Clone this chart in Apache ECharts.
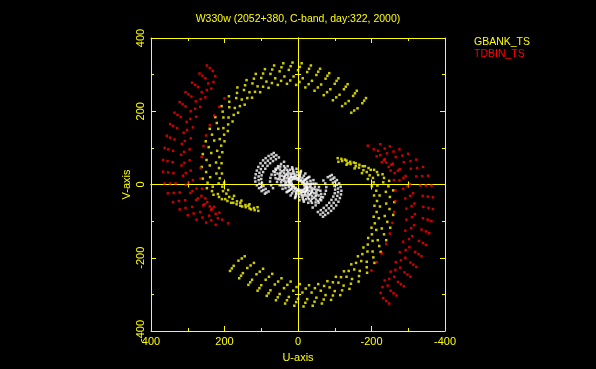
<!DOCTYPE html>
<html>
<head>
<meta charset="utf-8">
<script src="https://cdn.jsdelivr.net/npm/echarts/dist/echarts.min.js"></script>
<style>
html,body{margin:0;padding:0;background:#000;}
#chart{width:596px;height:369px;}
</style>
</head>
<body>
<div id="chart"></div>
<script>
// ---- Axis settings (data units) ----
const axisMin = -400;
const axisMax = 400;
const tickStep = 200;
const titleText = 'W330w (2052+380, C-band, day:322, 2000)';
const seriesNames = ['GBANK_TS', 'TDBIN_TS', 'other'];

// ---- GBANK_TS (yellow) tracks, [u, v] ----
const gbankY1 = [[-185,236],[-160,256],[-135,274],[-110,290],[-85,304],[-60,316],[-35,325],[-10,331],[15,333],[40,331],[65,325],[90,315],[115,302],[140,285],[165,265],[188,241],[208,214],[225,184],[240,152],[251,118],[259,83],[262,48],[259,16],[248,-10],[230,-28],[207,-40],[182,-50],[157,-58],[132,-65],[108,-72]];
const gbankY5 = [[-180,229],[-155,249],[-130,267],[-105,283],[-80,297],[-55,308],[-30,316],[-5,321],[20,323],[45,320],[70,314],[95,303],[120,289],[144,271],[166,250],[187,226],[205,199],[221,168],[234,136],[243,102],[249,67],[250,34],[246,5],[234,-18],[215,-34],[192,-45],[167,-54],[142,-62],[118,-70]];
const gbankY2 = [[-175,222],[-150,242],[-125,260],[-100,275],[-75,289],[-50,299],[-25,307],[0,312],[25,313],[50,309],[75,302],[100,291],[124,276],[147,258],[168,236],[187,211],[203,183],[217,152],[228,120],[236,86],[240,52],[239,20],[232,-6],[218,-26],[198,-40],[176,-50],[152,-60],[128,-68]];
const gbankY3 = [[-162,208],[-138,228],[-113,245],[-88,260],[-63,273],[-38,283],[-13,290],[12,295],[37,295],[62,290],[86,281],[110,268],[132,252],[153,232],[172,209],[189,183],[203,154],[213,124],[220,92],[223,60],[222,30],[216,3],[204,-18],[187,-34],[166,-46],[143,-56],[120,-64]];
const gbankY6 = [[-153,202],[-129,221],[-104,238],[-79,252],[-54,265],[-29,274],[-4,280],[21,284],[46,283],[71,277],[95,267],[117,253],[138,236],[158,214],[175,190],[190,164],[201,136],[209,106],[214,75],[215,45],[213,17],[206,-6],[195,-25],[178,-39],[157,-50],[135,-58]];
const gbankY4 = [[-145,196],[-120,214],[-95,230],[-70,244],[-45,256],[-20,265],[5,272],[30,275],[55,272],[80,264],[103,252],[125,237],[145,218],[163,196],[178,172],[191,146],[200,118],[206,88],[208,58],[207,30],[201,5],[190,-15],[174,-31],[154,-44],[132,-54],[110,-62]];
const gbankY1c = [[185,-236],[160,-256],[135,-274],[110,-290],[85,-304],[60,-316],[35,-325],[10,-331],[-15,-333],[-40,-331],[-65,-325],[-90,-315],[-115,-302],[-140,-285],[-165,-265],[-188,-241],[-208,-214],[-225,-184],[-240,-152],[-251,-118],[-259,-83],[-262,-48],[-259,-16],[-248,10],[-230,28],[-207,40],[-182,50],[-157,58],[-132,65],[-108,72]];
const gbankY5c = [[180,-229],[155,-249],[130,-267],[105,-283],[80,-297],[55,-308],[30,-316],[5,-321],[-20,-323],[-45,-320],[-70,-314],[-95,-303],[-120,-289],[-144,-271],[-166,-250],[-187,-226],[-205,-199],[-221,-168],[-234,-136],[-243,-102],[-249,-67],[-250,-34],[-246,-5],[-234,18],[-215,34],[-192,45],[-167,54],[-142,62],[-118,70]];
const gbankY2c = [[175,-222],[150,-242],[125,-260],[100,-275],[75,-289],[50,-299],[25,-307],[0,-312],[-25,-313],[-50,-309],[-75,-302],[-100,-291],[-124,-276],[-147,-258],[-168,-236],[-187,-211],[-203,-183],[-217,-152],[-228,-120],[-236,-86],[-240,-52],[-239,-20],[-232,6],[-218,26],[-198,40],[-176,50],[-152,60],[-128,68]];
const gbankY3c = [[162,-208],[138,-228],[113,-245],[88,-260],[63,-273],[38,-283],[13,-290],[-12,-295],[-37,-295],[-62,-290],[-86,-281],[-110,-268],[-132,-252],[-153,-232],[-172,-209],[-189,-183],[-203,-154],[-213,-124],[-220,-92],[-223,-60],[-222,-30],[-216,-3],[-204,18],[-187,34],[-166,46],[-143,56],[-120,64]];
const gbankY6c = [[153,-202],[129,-221],[104,-238],[79,-252],[54,-265],[29,-274],[4,-280],[-21,-284],[-46,-283],[-71,-277],[-95,-267],[-117,-253],[-138,-236],[-158,-214],[-175,-190],[-190,-164],[-201,-136],[-209,-106],[-214,-75],[-215,-45],[-213,-17],[-206,6],[-195,25],[-178,39],[-157,50],[-135,58]];
const gbankY4c = [[145,-196],[120,-214],[95,-230],[70,-244],[45,-256],[20,-265],[-5,-272],[-30,-275],[-55,-272],[-80,-264],[-103,-252],[-125,-237],[-145,-218],[-163,-196],[-178,-172],[-191,-146],[-200,-118],[-206,-88],[-208,-58],[-207,-30],[-201,-5],[-190,15],[-174,31],[-154,44],[-132,54],[-110,62]];

// ---- TDBIN_TS (red) tracks, [u, v] ----
const tdbinR1 = [[248,325],[268,303],[288,278],[306,252],[322,225],[336,196],[348,165],[357,133],[363,100],[367,67],[367,35],[363,3],[354,-24],[340,-48],[322,-68],[300,-84],[276,-96],[250,-104],[224,-110]];
const tdbinR6 = [[240,318],[260,297],[280,272],[298,246],[314,219],[328,190],[340,160],[348,128],[353,96],[355,64],[353,33],[348,3],[338,-23],[324,-45],[306,-64],[284,-79],[260,-90],[236,-98]];
const tdbinR2 = [[232,310],[252,290],[272,266],[290,240],[306,213],[319,184],[329,154],[336,123],[340,92],[341,61],[339,31],[333,3],[322,-22],[307,-43],[288,-61],[266,-75],[242,-85],[218,-92]];
const tdbinR3 = [[225,296],[244,276],[262,252],[278,227],[292,200],[303,171],[311,141],[316,111],[318,81],[317,52],[313,24],[305,-1],[293,-23],[277,-42],[258,-57],[236,-69],[214,-77]];
const tdbinR7 = [[230,280],[248,258],[265,233],[280,207],[293,179],[302,149],[308,119],[310,89],[309,59],[305,31],[298,5],[287,-18],[272,-38],[254,-54],[234,-66]];
const tdbinR4 = [[236,262],[252,238],[266,212],[277,185],[286,156],[292,126],[295,96],[295,66],[292,38],[286,12],[276,-11],[263,-31],[247,-48],[228,-61]];
const tdbinR5 = [[200,235],[214,212],[228,188],[240,162],[250,134],[257,105],[262,75],[265,45],[265,16],[261,-12],[252,-38],[240,-60],[224,-80],[206,-96],[190,-106]];
const tdbinR1c = [[-248,-325],[-268,-303],[-288,-278],[-306,-252],[-322,-225],[-336,-196],[-348,-165],[-357,-133],[-363,-100],[-367,-67],[-367,-35],[-363,-3],[-354,24],[-340,48],[-322,68],[-300,84],[-276,96],[-250,104],[-224,110]];
const tdbinR6c = [[-240,-318],[-260,-297],[-280,-272],[-298,-246],[-314,-219],[-328,-190],[-340,-160],[-348,-128],[-353,-96],[-355,-64],[-353,-33],[-348,-3],[-338,23],[-324,45],[-306,64],[-284,79],[-260,90],[-236,98]];
const tdbinR2c = [[-232,-310],[-252,-290],[-272,-266],[-290,-240],[-306,-213],[-319,-184],[-329,-154],[-336,-123],[-340,-92],[-341,-61],[-339,-31],[-333,-3],[-322,22],[-307,43],[-288,61],[-266,75],[-242,85],[-218,92]];
const tdbinR3c = [[-225,-296],[-244,-276],[-262,-252],[-278,-227],[-292,-200],[-303,-171],[-311,-141],[-316,-111],[-318,-81],[-317,-52],[-313,-24],[-305,1],[-293,23],[-277,42],[-258,57],[-236,69],[-214,77]];
const tdbinR7c = [[-230,-280],[-248,-258],[-265,-233],[-280,-207],[-293,-179],[-302,-149],[-308,-119],[-310,-89],[-309,-59],[-305,-31],[-298,-5],[-287,18],[-272,38],[-254,54],[-234,66]];
const tdbinR4c = [[-236,-262],[-252,-238],[-266,-212],[-277,-185],[-286,-156],[-292,-126],[-295,-96],[-295,-66],[-292,-38],[-286,-12],[-276,11],[-263,31],[-247,48],[-228,61]];
const tdbinR5c = [[-200,-235],[-214,-212],[-228,-188],[-240,-162],[-250,-134],[-257,-105],[-262,-75],[-265,-45],[-265,-16],[-261,12],[-252,38],[-240,60],[-224,80],[-206,96],[-190,106]];

// ---- other short baselines (white), [u, v] ----
const ringA = [[60,40],[48,49],[28,50],[4,43],[-20,30],[-42,12],[-57,-7],[-63,-26],[-60,-40],[-48,-49],[-28,-50],[-4,-43],[20,-30],[42,-12],[57,7],[63,26]];
const ringS1 = [[55,45],[38,50],[16,47],[-8,37],[-31,21],[-50,2],[-61,-17],[-63,-34],[-55,-45],[-38,-50],[-16,-47],[8,-37],[31,-21],[50,-2],[61,17],[63,34]];
const ringB = [[49,41],[35,45],[15,43],[-7,34],[-28,19],[-45,2],[-55,-15],[-56,-30],[-49,-41],[-35,-45],[-15,-43],[7,-34],[28,-19],[45,-2],[55,15],[56,30]];
const ringC = [[48,32],[38,39],[22,40],[3,34],[-16,24],[-34,10],[-46,-6],[-50,-21],[-48,-32],[-38,-39],[-22,-40],[-3,-34],[16,-24],[34,-10],[46,6],[50,21]];
const ringS2 = [[44,36],[30,40],[13,38],[-6,30],[-25,17],[-40,2],[-49,-14],[-50,-27],[-44,-36],[-30,-40],[-13,-38],[6,-30],[25,-17],[40,-2],[49,14],[50,27]];
const ringD = [[38,32],[27,35],[12,33],[-5,26],[-22,15],[-35,2],[-43,-12],[-44,-24],[-38,-32],[-27,-35],[-12,-33],[5,-26],[22,-15],[35,-2],[43,12],[44,24]];
const ringE = [[36,24],[29,29],[17,30],[2,26],[-12,18],[-25,7],[-34,-4],[-38,-16],[-36,-24],[-29,-29],[-17,-30],[-2,-26],[12,-18],[25,-7],[34,4],[38,16]];
const ringS3 = [[33,27],[23,30],[10,28],[-5,22],[-19,13],[-30,1],[-37,-10],[-38,-20],[-33,-27],[-23,-30],[-10,-28],[5,-22],[19,-13],[30,-1],[37,10],[38,20]];
const ringF = [[27,23],[19,25],[8,24],[-4,19],[-16,11],[-25,1],[-31,-8],[-31,-17],[-27,-23],[-19,-25],[-8,-24],[4,-19],[16,-11],[25,-1],[31,8],[31,17]];
const ringG = [[24,16],[19,20],[11,20],[2,17],[-8,12],[-17,5],[-23,-3],[-25,-10],[-24,-16],[-19,-20],[-11,-20],[-2,-17],[8,-12],[17,-5],[23,3],[25,10]];
const ringS4 = [[22,18],[15,20],[6,19],[-3,15],[-12,8],[-20,1],[-24,-7],[-25,-14],[-22,-18],[-15,-20],[-6,-19],[3,-15],[12,-8],[20,-1],[24,7],[25,14]];
const ringH = [[18,12],[14,15],[8,15],[1,13],[-6,9],[-12,4],[-17,-2],[-19,-8],[-18,-12],[-14,-15],[-8,-15],[-1,-13],[6,-9],[12,-4],[17,2],[19,8]];
const arcW1 = [[66,86],[72,82],[80,78],[88,72],[95,66],[102,58],[108,48],[112,38],[115,28],[117,18],[116,8],[112,-2],[106,-10],[99,-18],[90,-25]];
const arcW4 = [[59,80],[66,76],[74,71],[82,65],[89,59],[96,51],[101,42],[105,32],[107,22],[107,12],[105,2],[100,-7],[94,-15],[86,-22]];
const arcW2 = [[52,74],[60,69],[68,64],[76,58],[83,51],[89,43],[95,34],[99,25],[100,15],[98,5],[94,-4],[88,-12],[80,-19]];
const arcW3 = [[38,62],[46,56],[54,50],[61,43],[67,36],[72,27],[75,18],[76,8],[73,-2],[68,-10]];
const arcW1c = [[-68,-88],[-74,-83],[-82,-78],[-90,-72],[-97,-65],[-104,-57],[-110,-47],[-114,-37],[-117,-27],[-118,-17],[-116,-6],[-112,3],[-106,12],[-99,19],[-92,26]];
const arcW4c = [[-61,-82],[-68,-77],[-76,-71],[-84,-65],[-91,-58],[-97,-50],[-103,-41],[-107,-31],[-109,-21],[-109,-11],[-106,-1],[-101,8],[-95,16],[-87,23]];
const arcW2c = [[-54,-75],[-62,-70],[-70,-64],[-78,-57],[-85,-50],[-91,-42],[-96,-33],[-100,-24],[-101,-14],[-99,-4],[-95,5],[-89,13],[-81,20]];
const arcW3c = [[-40,-63],[-48,-57],[-56,-50],[-63,-43],[-68,-35],[-73,-26],[-76,-17],[-77,-7],[-74,3],[-69,11]];

const gbankData = [].concat(gbankY1, gbankY5, gbankY2, gbankY3, gbankY6, gbankY4,
  gbankY1c, gbankY5c, gbankY2c, gbankY3c, gbankY6c, gbankY4c);
const tdbinData = [].concat(tdbinR1, tdbinR6, tdbinR2, tdbinR3, tdbinR7, tdbinR4, tdbinR5,
  tdbinR1c, tdbinR6c, tdbinR2c, tdbinR3c, tdbinR7c, tdbinR4c, tdbinR5c);
const otherData = [].concat(ringA, ringS1, ringB, ringC, ringS2, ringD, ringE, ringS3, ringF, ringG, ringS4, ringH,
  arcW1, arcW4, arcW2, arcW3, arcW1c, arcW4c, arcW2c, arcW3c);

const YEL = '#ffff00', RED = '#ff0000', WHT = '#ffffff';
const FONT = 'Liberation Sans';
const DOT = 2.5;
const gridRect = {left: 151, right: 151, top: 38, bottom: 38, containLabel: false};

function boxAxis(extra) {
  return Object.assign({
    type: 'value', min: axisMin, max: axisMax, interval: tickStep,
    axisLine: {show: true, onZero: false, lineStyle: {color: YEL, width: 1}},
    axisTick: {show: true, inside: true, length: 5, lineStyle: {color: YEL}},
    minorTick: {show: true, splitNumber: 2, length: 3, lineStyle: {color: YEL}},
    axisLabel: {show: false},
    splitLine: {show: false},
    minorSplitLine: {show: false}
  }, extra);
}
function zeroAxis(extra, inside) {
  return Object.assign({
    type: 'value', min: axisMin, max: axisMax, interval: tickStep,
    axisLine: {show: true, onZero: true, lineStyle: {color: YEL, width: 1}},
    axisTick: {show: true, inside: inside, length: 5, lineStyle: {color: YEL}},
    minorTick: {show: true, splitNumber: 2, length: 3, lineStyle: {color: YEL}},
    axisLabel: {show: false},
    splitLine: {show: false},
    minorSplitLine: {show: false}
  }, extra);
}

const chart = echarts.init(document.getElementById('chart'), null, {renderer: 'canvas'});
chart.setOption({
  backgroundColor: '#000',
  animation: false,
  title: {
    text: titleText, left: 'center', top: 9,
    textStyle: {color: YEL, fontSize: 10.5, fontWeight: 'normal', fontFamily: FONT}
  },
  legend: {
    data: [
      {name: seriesNames[0], textStyle: {color: YEL}},
      {name: seriesNames[1], textStyle: {color: RED}}
    ],
    orient: 'vertical', left: 469, top: 37, padding: 0, icon: 'none',
    itemWidth: 0, itemHeight: 10, itemGap: 1, selectedMode: false,
    textStyle: {fontSize: 10.5, fontFamily: FONT}
  },
  grid: [gridRect, gridRect, gridRect],
  xAxis: [
    boxAxis({gridIndex: 0, position: 'bottom', inverse: true,
      axisLabel: {show: true, color: YEL, fontSize: 11, fontFamily: FONT, margin: 5},
      name: 'U-axis', nameLocation: 'middle', nameGap: 21,
      nameTextStyle: {color: YEL, fontSize: 11, fontFamily: FONT}}),
    boxAxis({gridIndex: 0, position: 'top', inverse: true}),
    zeroAxis({gridIndex: 1, position: 'bottom', inverse: true}, true),
    zeroAxis({gridIndex: 2, position: 'bottom', inverse: true}, false)
  ],
  yAxis: [
    boxAxis({gridIndex: 0, position: 'left',
      axisLabel: {show: true, color: YEL, fontSize: 11, fontFamily: FONT, margin: 5, rotate: 90},
      name: 'V-axis', nameLocation: 'middle', nameGap: 19, nameRotate: 90,
      nameTextStyle: {color: YEL, fontSize: 11, fontFamily: FONT}}),
    boxAxis({gridIndex: 0, position: 'right'}),
    zeroAxis({gridIndex: 1, position: 'left'}, true),
    zeroAxis({gridIndex: 2, position: 'left'}, false)
  ],
  series: [
    {name: seriesNames[2], type: 'scatter', xAxisIndex: 0, yAxisIndex: 0, data: otherData,
     symbol: 'rect', symbolSize: DOT, itemStyle: {color: WHT}, silent: true},
    {name: seriesNames[0], type: 'scatter', xAxisIndex: 0, yAxisIndex: 0, data: gbankData,
     symbol: 'rect', symbolSize: DOT, itemStyle: {color: YEL}, silent: true},
    {name: seriesNames[1], type: 'scatter', xAxisIndex: 0, yAxisIndex: 0, data: tdbinData,
     symbol: 'rect', symbolSize: DOT, itemStyle: {color: RED}, silent: true}
  ]
});
</script>
</body>
</html>
